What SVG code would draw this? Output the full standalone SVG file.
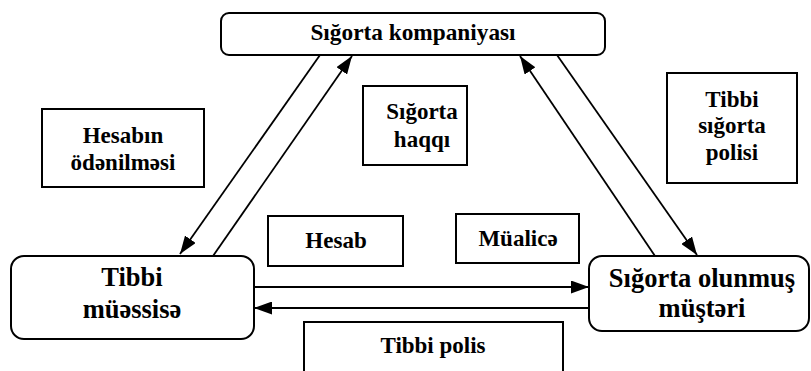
<svg xmlns="http://www.w3.org/2000/svg" width="811" height="371" viewBox="0 0 811 371">
  <style>
    .node { fill: #ffffff; stroke: #000000; stroke-width: 2; }
    .lbl { fill: #ffffff; stroke: #000000; stroke-width: 2; }
    text { fill: #000000; text-anchor: middle; font-weight: bold; }
    .big { font-size: 26.5px; }
    .mid { font-size: 23.3px; }
    .small { font-size: 23px; }
    .edge { stroke: #000000; stroke-width: 1.8; fill: none; }
  </style>
  <defs>
    <marker id="arrow" viewBox="0 0 18 13" refX="18" refY="6.5" markerWidth="18" markerHeight="13" markerUnits="userSpaceOnUse" orient="auto">
      <path d="M0,0 L18,6.5 L0,13 z" fill="#000000"/>
    </marker>
  </defs>
  <rect width="811" height="371" fill="#ffffff"/>

  <g id="connectors">
    <line class="edge" x1="320" y1="55" x2="180" y2="254" marker-end="url(#arrow)"/>
    <line class="edge" x1="213" y1="256" x2="352" y2="56" marker-end="url(#arrow)"/>
    <line class="edge" x1="655" y1="256" x2="520" y2="56" marker-end="url(#arrow)"/>
    <line class="edge" x1="557" y1="55" x2="697" y2="255" marker-end="url(#arrow)"/>
    <line class="edge" x1="254" y1="287" x2="589" y2="287" marker-end="url(#arrow)"/>
    <line class="edge" x1="589" y1="308" x2="254" y2="308" marker-end="url(#arrow)"/>
  </g>

  <g font-family="Liberation Serif, Times New Roman, DejaVu Serif, serif">
    <g id="sigorta-kompaniyasi">
      <rect class="node" x="221" y="13" width="384" height="42" rx="8"/>
      <text class="mid" x="413" y="40">Sığorta kompaniyası</text>
    </g>

    <g id="tibbi-muessise">
      <rect class="node" x="11" y="256" width="243" height="83" rx="13"/>
      <text class="big" x="132" y="286">Tibbi</text>
      <text class="big" x="132" y="318">müəssisə</text>
    </g>

    <g id="sigorta-olunmus-musteri">
      <rect class="node" x="589" y="256" width="220" height="75" rx="13"/>
      <text class="big" x="702" y="287">Sığorta olunmuş</text>
      <text class="big" x="702" y="317">müştəri</text>
    </g>

    <g id="hesabin-odenilmesi">
      <rect class="lbl" x="42" y="109" width="162" height="78"/>
      <text class="small" x="123" y="143">Hesabın</text>
      <text class="small" x="123" y="170">ödənilməsi</text>
    </g>

    <g id="sigorta-haqqi">
      <rect class="lbl" x="363" y="86" width="104" height="79"/>
      <text class="small" x="422" y="119">Sığorta</text>
      <text class="small" x="422" y="147">haqqı</text>
    </g>

    <g id="tibbi-sigorta-polisi">
      <rect class="lbl" x="667" y="73" width="130" height="110"/>
      <text class="small" x="732" y="107">Tibbi</text>
      <text class="small" x="732" y="133">sığorta</text>
      <text class="small" x="732" y="160">polisi</text>
    </g>

    <g id="hesab">
      <rect class="lbl" x="268" y="216" width="135" height="50"/>
      <text class="small" x="336" y="248">Hesab</text>
    </g>

    <g id="mualice">
      <rect class="lbl" x="456" y="214" width="123" height="49"/>
      <text class="small" x="518" y="246">Müalicə</text>
    </g>

    <g id="tibbi-polis">
      <rect class="lbl" x="304" y="322" width="259" height="60"/>
      <text class="small" x="433" y="353">Tibbi polis</text>
    </g>
  </g>
</svg>
